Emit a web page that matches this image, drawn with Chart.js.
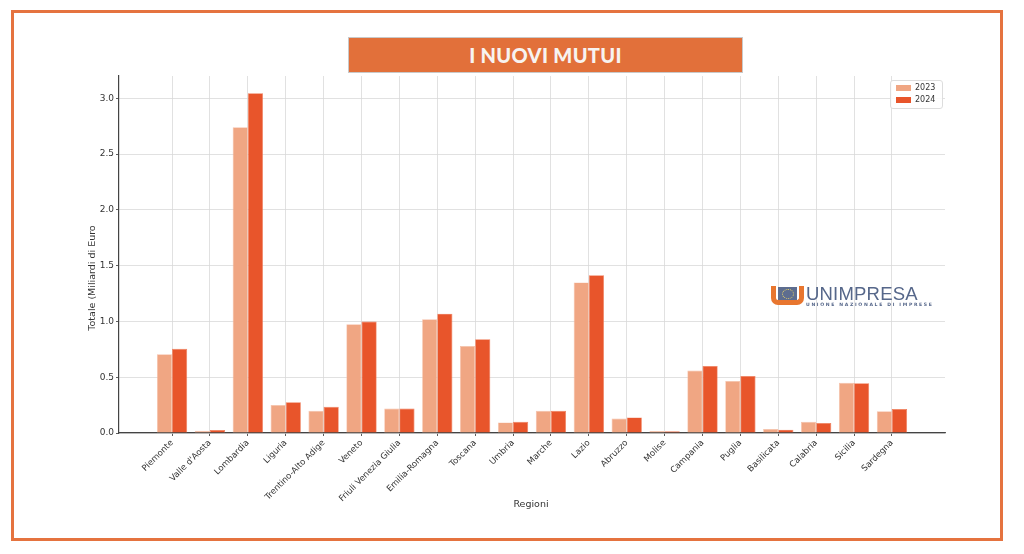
<!DOCTYPE html>
<html>
<head>
<meta charset="utf-8">
<script src="https://cdn.jsdelivr.net/npm/chart.js@4.4.1/dist/chart.umd.min.js"></script>
<style>
  html,body{margin:0;padding:0;background:#fff;}
  #wrap{position:relative;width:1024px;height:554px;overflow:hidden;background:#fff;}
  #c{position:absolute;left:0;top:0;}
  #frame{position:absolute;left:11px;top:10px;width:986px;height:525px;border:3px solid #E5733F;pointer-events:none;}
  #title{position:absolute;left:348px;top:37px;width:393px;height:34px;background:#E2703A;border:1px solid #c9c9c9;
    color:#f7f3f1;font-family:"Lato",sans-serif;font-weight:900;font-size:20px;line-height:35px;text-align:center;letter-spacing:0.3px;}
  #legend{position:absolute;left:890px;top:80px;width:51px;height:27px;border:1px solid #ddd;border-radius:3px;background:rgba(255,255,255,0.85);
    font-family:"DejaVu Sans",sans-serif;font-size:8px;color:#333;}
  .li{position:absolute;left:5px;height:8px;line-height:8px;}
  .sw{display:inline-block;width:15px;height:6px;vertical-align:middle;margin-right:4px;}
  #logo{position:absolute;left:771px;top:286px;width:165px;height:22px;}
  #logo .u{position:absolute;left:0;top:0px;width:23px;height:14px;border:5px solid #E8762F;border-top:none;border-radius:0 0 7px 7px;}
  #logo .sq{position:absolute;left:7px;top:1px;width:19px;height:13px;background:#5d6d8f;}
  #logo .st{position:absolute;left:11px;top:3px;width:10px;height:8px;border:1px dotted #e8d36a;border-radius:50%;}
  #logo .t{position:absolute;left:35px;top:0px;font-family:"Liberation Sans",sans-serif;font-size:18.5px;line-height:16px;color:#56678a;letter-spacing:0.2px;font-weight:400;}
  #logo .s{position:absolute;left:35px;top:16px;font-family:"DejaVu Sans",sans-serif;font-size:4.6px;line-height:5px;color:#56678a;letter-spacing:1.65px;font-weight:700;white-space:nowrap;}
</style>
</head>
<body>
<div id="wrap">
  <canvas id="c" width="1024" height="554"></canvas>
  <div id="logo"><div class="u"></div><div class="sq"></div><div class="st"></div><div class="t">UNIMPRESA</div><div class="s">UNIONE NAZIONALE DI IMPRESE</div></div>
  <div id="legend">
    <div class="li" style="top:3px"><span class="sw" style="background:#F0A683"></span>2023</div>
    <div class="li" style="top:15px"><span class="sw" style="background:#E8552B"></span>2024</div>
  </div>
  <div id="title">I NUOVI MUTUI</div>
  <div id="frame"></div>
</div>
<script>
const regions = ["Piemonte","Valle d'Aosta","Lombardia","Liguria","Trentino-Alto Adige","Veneto","Friuli Venezia Giulia","Emilia-Romagna","Toscana","Umbria","Marche","Lazio","Abruzzo","Molise","Campania","Puglia","Basilicata","Calabria","Sicilia","Sardegna"];
const values2023 = [0.705,0.02,2.74,0.25,0.20,0.975,0.22,1.02,0.78,0.095,0.20,1.35,0.13,0.017,0.56,0.465,0.035,0.10,0.45,0.195];
const values2024 = [0.755,0.027,3.045,0.275,0.235,1.0,0.22,1.07,0.84,0.10,0.20,1.415,0.14,0.016,0.60,0.51,0.03,0.09,0.445,0.215];
const yTicks = [0,0.5,1.0,1.5,2.0,2.5,3.0];
const yTitle = "Totale (Miliardi di Euro";
const xTitle = "Regioni";

const toXY = arr => arr.map((v,i)=>({x:i,y:v}));

const textPlugin = {
  id:'texts',
  afterDraw(chart){
    const ctx = chart.ctx;
    ctx.save();
    ctx.fillStyle = '#333';
    ctx.font = '9.5px "DejaVu Sans"';
    ctx.textAlign = 'center';
    ctx.textBaseline = 'middle';
    ctx.fillText(xTitle, 531, 505);
    ctx.translate(93, 278);
    ctx.rotate(-Math.PI/2);
    ctx.fillText(yTitle, 0, 0);
    ctx.restore();
  }
};

new Chart(document.getElementById('c'), {
  type:'bar',
  data:{
    datasets:[
      {label:'2023', data:toXY(values2023), backgroundColor:'#F0A683', borderColor:'#F6C0A8', borderWidth:{top:0.7,left:0.7,right:0.7,bottom:0}, borderSkipped:'bottom'},
      {label:'2024', data:toXY(values2024), backgroundColor:'#E8552B', borderColor:'#EF7D5A', borderWidth:{top:0.7,left:0.7,right:0.7,bottom:0}, borderSkipped:'bottom'}
    ]
  },
  options:{
    responsive:false,
    animation:false,
    devicePixelRatio:1,
    layout:{padding:{left:0,right:79,top:76,bottom:0}},
    plugins:{legend:{display:false},tooltip:{enabled:false},title:{display:false}},
    datasets:{bar:{categoryPercentage:0.8,barPercentage:1.0}},
    scales:{
      x:{
        type:'linear', min:-1.4, max:20.4, offset:false,
        afterBuildTicks(s){ s.ticks = regions.map((_,i)=>({value:i})); },
        afterFit(s){ s.height = 121; },
        grid:{offset:false, color:'#d9d9d9', lineWidth:0.8, borderDash:[2,2], tickColor:'#333', tickLength:3, tickWidth:0.8},
        border:{display:true,color:'#444',width:1.2},
        ticks:{autoSkip:false, maxRotation:45, minRotation:45, padding:2, color:'#333',
          font:{family:'DejaVu Sans', size:8.5},
          callback:(v)=>regions[v]}
      },
      y:{
        type:'linear', min:0, max:3.2,
        afterBuildTicks(s){ s.ticks = yTicks.map(v=>({value:v})); },
        afterFit(s){ s.width = 119; },
        grid:{color:'#d9d9d9', lineWidth:0.8, borderDash:[2,2], tickColor:'#333', tickLength:3, tickWidth:0.8},
        border:{display:true,color:'#444',width:1.2},
        ticks:{padding:2, color:'#333', font:{family:'DejaVu Sans', size:9},
          callback:(v)=>v.toFixed(1)}
      }
    }
  },
  plugins:[textPlugin]
});
</script>
</body>
</html>
